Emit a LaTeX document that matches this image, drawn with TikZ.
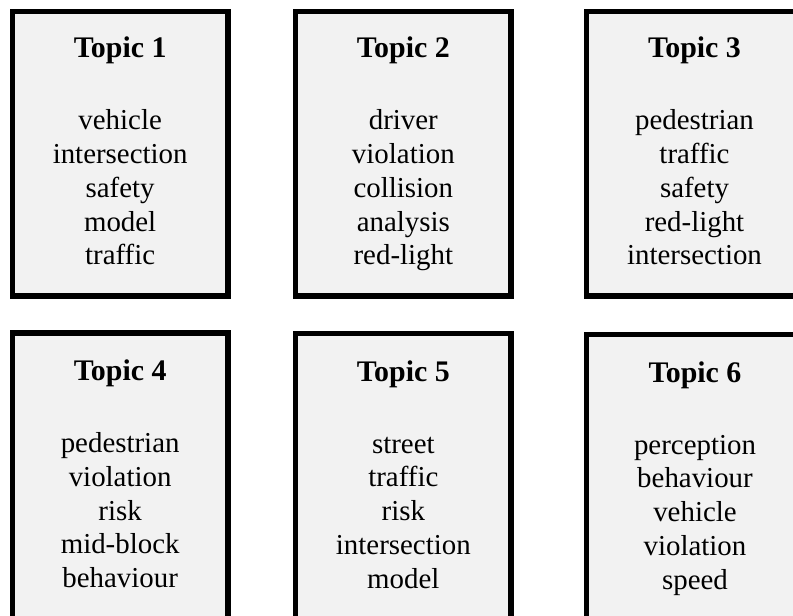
\documentclass[tikz,border=0pt]{standalone}
\usepackage{fontspec}
\setmainfont{Liberation Serif}
\definecolor{boxfill}{RGB}{242,242,242}
\tikzset{
  topicbox/.style={draw=black, fill=boxfill, line width=5.5bp, inner sep=0pt,
    minimum width=215.7bp, minimum height=284.5bp},
  tallbox/.style={topicbox, minimum height=300bp},
  topictitle/.style={anchor=base, inner sep=0pt, font=\fontsize{30}{36}\selectfont\bfseries},
  topicword/.style={anchor=base, inner sep=0pt, font=\fontsize{29}{34}\selectfont},
}
\begin{document}
\begin{tikzpicture}[x=1bp, y=1bp]
  \useasboundingbox (0,0) rectangle (793,-616);
  \clip (0,0) rectangle (793,-616);

  % top row
  \node[topicbox] (b1) at (120.15,-153.95) {};
  \node[topicbox] (b2) at (403.35,-153.95) {};
  \node[topicbox] (b3) at (694.5,-153.95) {};
  % bottom row (runs past the lower edge)
  \node[tallbox] (b4) at (120.15,-483) {};
  \node[tallbox] (b5) at (403.35,-483.5) {};
  \node[tallbox] (b6) at (694.5,-484.5) {};

  % titles
  \node[topictitle] (t1) at (120.15,-57.6) {Topic 1};
  \node[topictitle] (t2) at (403.35,-57.4) {Topic 2};
  \node[topictitle] (t3) at (694.5,-57.6) {Topic 3};
  \node[topictitle] (t4) at (120.15,-380.5) {Topic 4};
  \node[topictitle] (t5) at (403.35,-381) {Topic 5};
  \node[topictitle] (t6) at (695,-382) {Topic 6};

  % word lists
  \foreach \w [count=\i] in {vehicle,intersection,safety,model,traffic}
    \node[topicword] (w1-\i) at (120.15,{-129.7-33.8*(\i-1)}) {\w};
  \foreach \w [count=\i] in {driver,violation,collision,analysis,red-light}
    \node[topicword] (w2-\i) at (403.35,{-129.7-33.8*(\i-1)}) {\w};
  \foreach \w [count=\i] in {pedestrian,traffic,safety,red-light,intersection}
    \node[topicword] (w3-\i) at (694.5,{-129.7-33.8*(\i-1)}) {\w};
  \foreach \w [count=\i] in {pedestrian,violation,risk,mid-block,behaviour}
    \node[topicword] (w4-\i) at (120.15,{-452.5-33.8*(\i-1)}) {\w};
  \foreach \w [count=\i] in {street,traffic,risk,intersection,model}
    \node[topicword] (w5-\i) at (403.35,{-453-33.8*(\i-1)}) {\w};
  \foreach \w [count=\i] in {perception,behaviour,vehicle,violation,speed}
    \node[topicword] (w6-\i) at (695,{-454-33.8*(\i-1)}) {\w};
\end{tikzpicture}
\end{document}
